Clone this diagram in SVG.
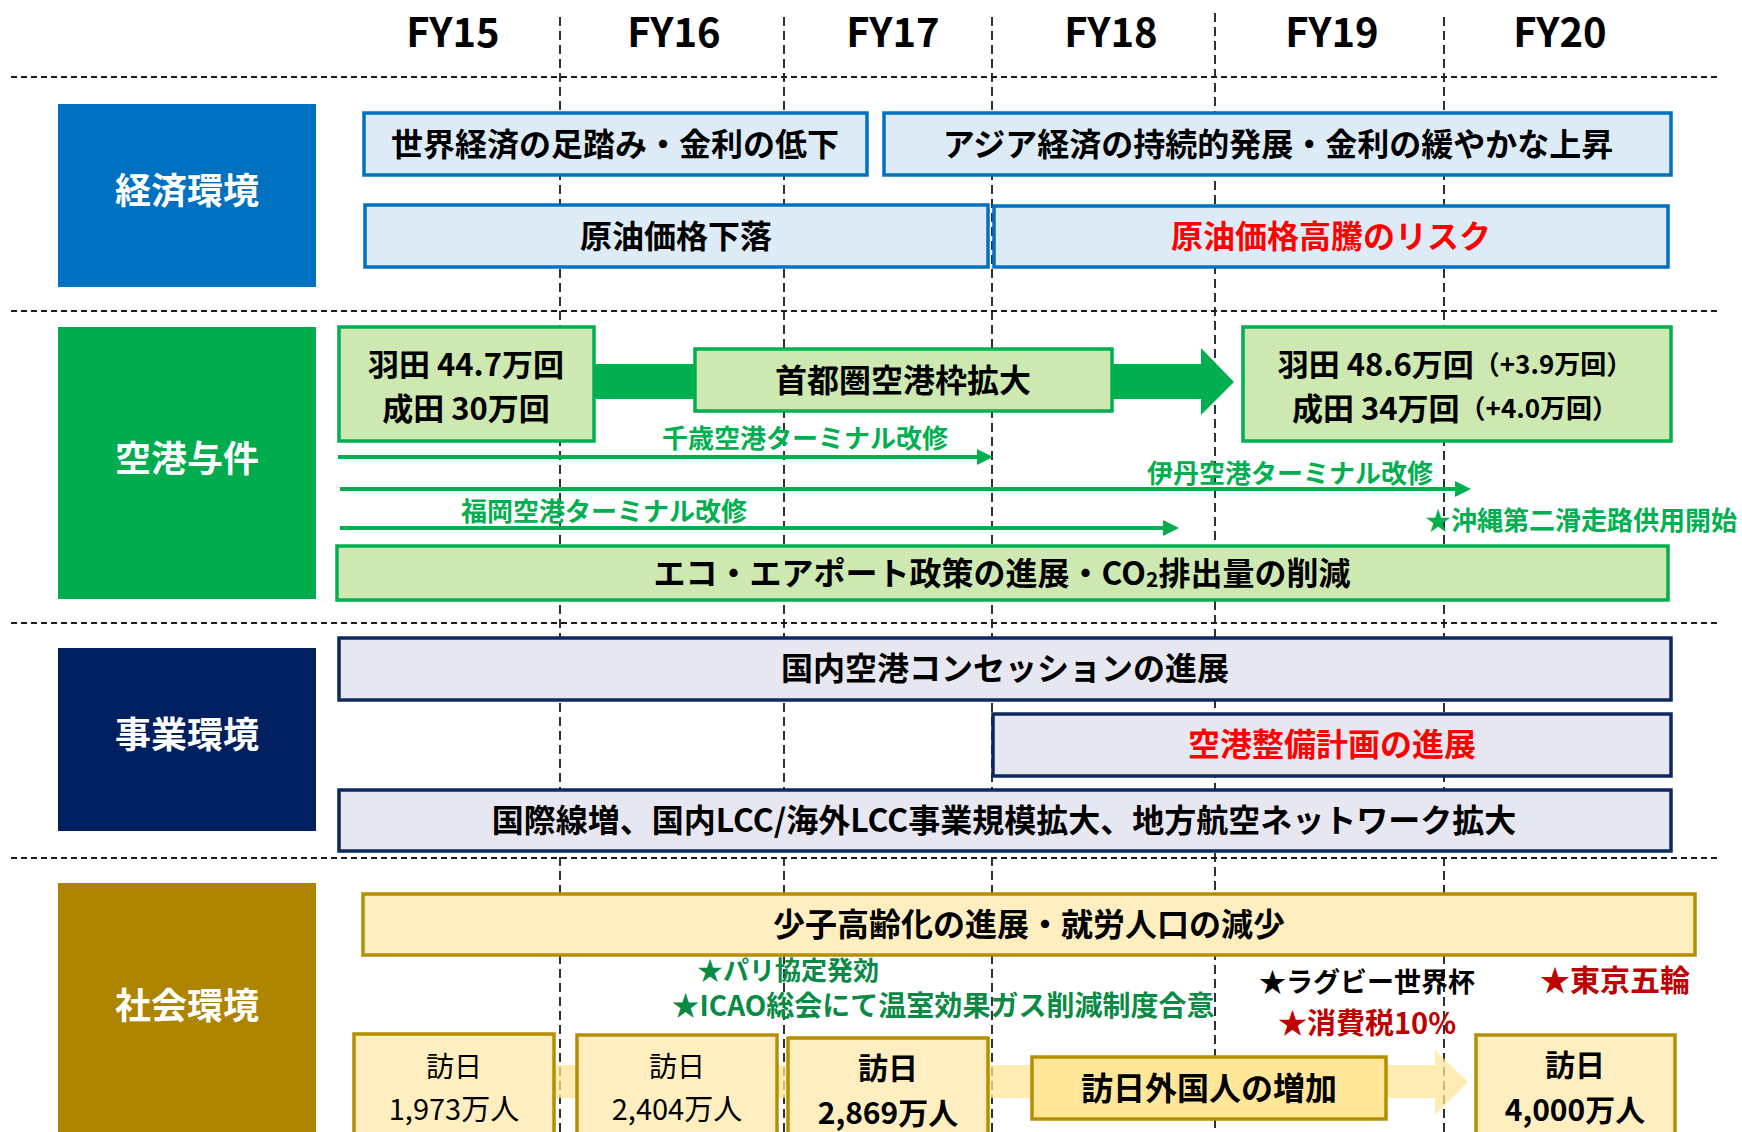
<svg xmlns="http://www.w3.org/2000/svg" width="1742" height="1132" viewBox="0 0 1742 1132">
<defs>
<style>
text{font-family:"Noto Sans CJK JP","Noto Sans",sans-serif;dominant-baseline:central;text-anchor:middle}
.b{font-weight:700}
.r{font-weight:400}
.vg{stroke:#1a1a1a;stroke-width:1.8;stroke-dasharray:9 5;fill:none}
.hg{stroke:#1a1a1a;stroke-width:1.8;stroke-dasharray:6 4;fill:none}
.fy{font-size:40px;font-weight:700;fill:#000}
.lab{fill:#fff;font-size:36px;font-weight:700}
.t32{font-size:32px;font-weight:700;fill:#000}
.eco{fill:#DDEBF7;stroke:#0070C0;stroke-width:3.5}
.air{fill:#CDE8B0;stroke:#00B050;stroke-width:3.5}
.biz{fill:#E6E7F0;stroke:#0D2A5E;stroke-width:3.5}
.soc{fill:#FFEFC0;stroke:#B48F00;stroke-width:3.5}
.gl{font-size:26px;font-weight:700;fill:#00B050}
.ga{stroke:#00B050;stroke-width:4;fill:none}
.red{fill:#FF0000}
.dred{fill:#C00000}
</style>
<marker id="ah" markerUnits="userSpaceOnUse" markerWidth="16" markerHeight="16" refX="1" refY="8" orient="auto">
<path d="M0,0 L16,8 L0,16 z" fill="#00B050"/>
</marker>
</defs>
<rect width="1742" height="1132" fill="#fff"/>

<g id="grid">
<line class="vg" x1="560" y1="17" x2="560" y2="1132"/>
<line class="vg" x1="784" y1="17" x2="784" y2="1132"/>
<line class="vg" x1="992" y1="17" x2="992" y2="1132"/>
<line class="vg" x1="1215" y1="13" x2="1215" y2="1132"/>
<line class="vg" x1="1444" y1="17" x2="1444" y2="1132"/>
<line class="hg" x1="11" y1="77" x2="1721" y2="77"/>
<line class="hg" x1="11" y1="311" x2="1721" y2="311"/>
<line class="hg" x1="11" y1="623" x2="1721" y2="623"/>
<line class="hg" x1="11" y1="858" x2="1721" y2="858"/>
</g>

<g id="years">
<text class="fy" x="453" y="30">FY15</text>
<text class="fy" x="674" y="30">FY16</text>
<text class="fy" x="893" y="30">FY17</text>
<text class="fy" x="1111" y="30">FY18</text>
<text class="fy" x="1332" y="30">FY19</text>
<text class="fy" x="1560" y="30">FY20</text>
</g>

<g id="connectors">
<polygon points="594,364 1201,364 1201,348 1234,382 1201,415 1201,399 594,399" fill="#00B050"/>
<polygon points="554,1065 1435,1065 1435,1050 1468,1082 1435,1115 1435,1098 554,1098" fill="#FFE699" opacity="0.75"/>
<line class="ga" x1="338" y1="457" x2="978" y2="457" marker-end="url(#ah)"/>
<line class="ga" x1="340" y1="489" x2="1456" y2="489" marker-end="url(#ah)"/>
<line class="ga" x1="340" y1="528" x2="1164" y2="528" marker-end="url(#ah)"/>
</g>

<g id="cat-economy">
<rect x="58" y="104" width="258" height="183" fill="#0070C0"/>
<text class="lab" x="187" y="188">経済環境</text>
</g>
<g id="cat-airport">
<rect x="58" y="327" width="258" height="272" fill="#00AC4E"/>
<text class="lab" x="187" y="456">空港与件</text>
</g>
<g id="cat-business">
<rect x="58" y="648" width="258" height="183" fill="#002060"/>
<text class="lab" x="187" y="732">事業環境</text>
</g>
<g id="cat-society">
<rect x="58" y="883" width="258" height="260" fill="#AD8500"/>
<text class="lab" x="187" y="1003">社会環境</text>
</g>

<g id="eco1">
<rect class="eco" x="364" y="113" width="503" height="62"/>
<text class="t32" x="615" y="142">世界経済の足踏み・金利の低下</text>
</g>
<g id="eco2">
<rect class="eco" x="884" y="113" width="787" height="62"/>
<text class="t32" x="1278" y="142">アジア経済の持続的発展・金利の緩やかな上昇</text>
</g>
<g id="eco3">
<rect class="eco" x="365" y="205" width="623" height="62"/>
<text class="t32" x="676" y="234">原油価格下落</text>
</g>
<g id="eco4">
<rect class="eco" x="994" y="206" width="674" height="61"/>
<text class="t32 red" x="1331" y="234">原油価格高騰のリスク</text>
</g>

<g id="air1">
<rect class="air" x="339" y="327" width="255" height="114"/>
<text class="b" font-size="31" x="466" y="362">羽田 44.7万回</text>
<text class="b" font-size="31" x="466" y="406">成田 30万回</text>
</g>
<g id="air2">
<rect class="air" x="695" y="349" width="417" height="62"/>
<text class="t32" x="903" y="378">首都圏空港枠拡大</text>
</g>
<g id="air3">
<rect class="air" x="1243" y="327" width="428" height="114"/>
<text class="b" font-size="31" x="1455" y="362">羽田 48.6万回<tspan font-size="26">（+3.9万回）</tspan></text>
<text class="b" font-size="31" x="1455" y="406">成田 34万回<tspan font-size="26">（+4.0万回）</tspan></text>
</g>
<g id="air-chitose">
<text class="gl" x="805" y="436">千歳空港ターミナル改修</text>
</g>
<g id="air-itami">
<text class="gl" x="1290" y="471">伊丹空港ターミナル改修</text>
</g>
<g id="air-fukuoka">
<text class="gl" x="604" y="509">福岡空港ターミナル改修</text>
</g>
<g id="air-okinawa">
<text class="gl" x="1425" y="518" style="text-anchor:start">★沖縄第二滑走路供用開始</text>
</g>
<g id="air4">
<rect class="air" x="337" y="546" width="1331" height="54"/>
<text class="t32" x="1002" y="571">エコ・エアポート政策の進展・CO<tspan font-size="21" dy="7">2</tspan><tspan dy="-7">排出量の削減</tspan></text>
</g>

<g id="biz1">
<rect class="biz" x="339" y="638" width="1332" height="62"/>
<text class="t32" x="1005" y="666">国内空港コンセッションの進展</text>
</g>
<g id="biz2">
<rect class="biz" x="993" y="714" width="678" height="62"/>
<text class="t32 red" x="1332" y="742">空港整備計画の進展</text>
</g>
<g id="biz3">
<rect class="biz" x="339" y="790" width="1332" height="61"/>
<text class="t32" x="1004" y="818">国際線増、国内LCC/海外LCC事業規模拡大、地方航空ネットワーク拡大</text>
</g>

<g id="soc1">
<rect class="soc" x="363" y="894" width="1332" height="61"/>
<text class="t32" x="1029" y="922">少子高齢化の進展・就労人口の減少</text>
</g>
<g id="soc-paris">
<text class="b" font-size="26" fill="#0A8A45" x="788" y="968">★パリ協定発効</text>
</g>
<g id="soc-icao">
<text class="b" font-size="28" fill="#0A8A45" x="943" y="1004">★ICAO総会にて温室効果ガス削減制度合意</text>
</g>
<g id="soc-rugby">
<text class="b" font-size="27" fill="#000" x="1367" y="980">★ラグビー世界杯</text>
</g>
<g id="soc-olympics">
<text class="b dred" font-size="30" x="1615" y="978">★東京五輪</text>
</g>
<g id="soc-tax">
<text class="b dred" font-size="29" x="1367" y="1021">★消費税10%</text>
</g>

<g id="visit15">
<rect class="soc" x="354" y="1034" width="200" height="110"/>
<text class="r" font-size="28" fill="#000" x="454" y="1065">訪日</text>
<text class="r" font-size="29" fill="#000" x="454" y="1107">1,973万人</text>
</g>
<g id="visit16">
<rect class="soc" x="577" y="1035" width="200" height="110"/>
<text class="r" font-size="28" fill="#000" x="677" y="1065">訪日</text>
<text class="r" font-size="29" fill="#000" x="677" y="1107">2,404万人</text>
</g>
<g id="visit17">
<rect class="soc" x="788" y="1038" width="200" height="110"/>
<text class="b" font-size="30" fill="#000" x="888" y="1066">訪日</text>
<text class="b" font-size="30" fill="#000" x="888" y="1111">2,869万人</text>
</g>
<g id="visit-growth">
<rect x="1032" y="1057" width="354" height="62" fill="#FFE699" stroke="#B48F00" stroke-width="3.5"/>
<text class="t32" x="1209" y="1086">訪日外国人の増加</text>
</g>
<g id="visit20">
<rect class="soc" x="1476" y="1035" width="199" height="110"/>
<text class="b" font-size="30" fill="#000" x="1575" y="1063">訪日</text>
<text class="b" font-size="30" fill="#000" x="1575" y="1108">4,000万人</text>
</g>
</svg>
